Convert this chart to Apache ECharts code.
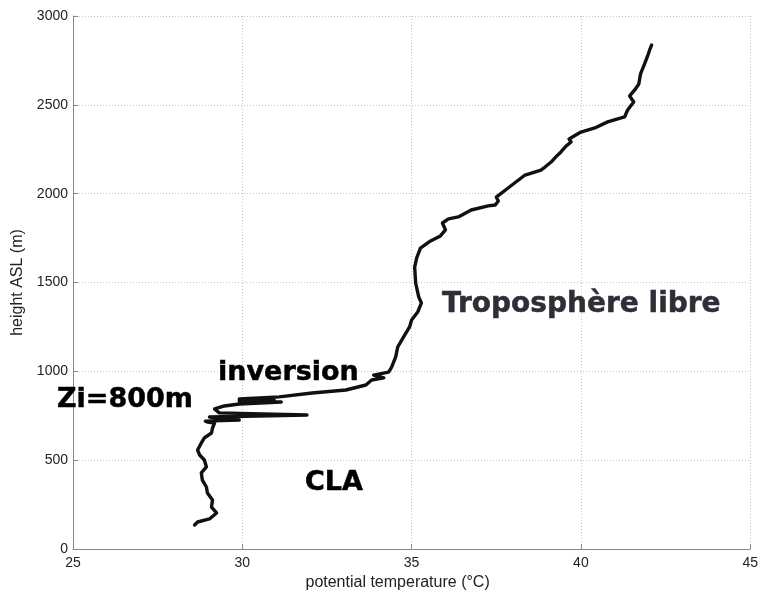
<!DOCTYPE html>
<html>
<head>
<meta charset="utf-8">
<script src="https://cdn.jsdelivr.net/npm/echarts@6/dist/echarts.min.js"></script>
<style>
html,body{margin:0;padding:0;background:#fff;}
#chart{width:761px;height:596px;}
</style>
</head>
<body>
<div id="chart"></div>
<script>
// Potential temperature (°C) along the profile, bottom to top
const temps = [28.59,28.68,29.03,29.24,29.09,29.12,28.97,28.94,28.82,28.79,28.94,28.88,28.74,28.68,28.79,28.88,29.09,29.12,29.18,28.97,
  28.91,29.91,29.03,31.91,29.32,29.18,29.47,29.91,31.15,29.91,30.94,29.91,31.09,32.06,33.06,33.65,33.82,34.18,33.88,34.32,34.41,
  34.53,34.59,34.76,34.94,35.0,35.18,35.29,35.21,35.12,35.09,35.15,35.26,35.56,35.85,36.0,35.91,36.09,36.38,36.76,37.26,37.47,
  37.56,37.5,37.85,38.35,38.82,38.94,39.12,39.26,39.41,39.56,39.71,39.65,40.0,40.41,40.79,41.29,41.38,41.56,41.44,41.59,41.71,
  41.76,41.88,41.97,42.03,42.09];
// Height ASL (m) for each temperature sample
const heights = [135,152,169,203,236,276,315,349,388,428,462,501,529,557,597,625,653,681,709,715,
  720,726,743,754,766,788,805,816,827,833,839,844,856,878,895,923,951,963,979,996,1024,
  1081,1137,1193,1250,1289,1334,1385,1419,1497,1587,1638,1694,1734,1762,1796,1835,1858,1869,1908,1931,1936,
  1959,1981,2032,2105,2133,2150,2178,2207,2235,2268,2291,2308,2347,2370,2404,2432,2471,2516,2550,2584,2617,
  2674,2730,2775,2809,2837];
const xTicks = [25,30,35,40,45];
const yTicks = [0,500,1000,1500,2000,2500,3000];
const xName = 'potential temperature (°C)';
const yName = 'height ASL (m)';
const labels = [
  {text:'inversion', x:218, y:373, color:'#000'},
  {text:'Zi=800m', x:57, y:400, color:'#000'},
  {text:'CLA', x:305, y:483, color:'#000'},
  {text:'Troposphère libre', x:442, y:305, color:'#2e2e36', size:28}
];

const points = temps.map((t,i)=>[t, heights[i]]);
const chart = echarts.init(document.getElementById('chart'));
const axisCommon = {
  axisLine:{show:true, lineStyle:{color:'#888', width:1}},
  axisTick:{show:true, inside:true, length:5, lineStyle:{color:'#888'}},
  splitLine:{show:true, lineStyle:{color:'#c4c4c4', type:[1,2], width:1}},
  axisLabel:{color:'#222', fontFamily:'Liberation Sans', fontSize:14, formatter:v=>String(v)}
};
chart.setOption({
  animation:false,
  backgroundColor:'#fff',
  grid:{left:73, top:16, width:680, height:533, containLabel:false},
  xAxis:Object.assign({}, axisCommon, {
    type:'value', min:xTicks[0], max:xTicks[xTicks.length-1], interval:5,
    name:xName, nameLocation:'middle', nameGap:25,
    nameTextStyle:{color:'#222', fontFamily:'Liberation Sans', fontSize:16, padding:[0,28,0,0]},
    axisLabel:Object.assign({}, axisCommon.axisLabel, {margin:7})
  }),
  yAxis:Object.assign({}, axisCommon, {
    type:'value', min:yTicks[0], max:yTicks[yTicks.length-1], interval:500,
    name:yName, nameLocation:'middle', nameGap:44,
    nameTextStyle:{color:'#222', fontFamily:'Liberation Sans', fontSize:16},
    axisLabel:Object.assign({}, axisCommon.axisLabel, {margin:5})
  }),
  series:[{
    type:'line', data:points, showSymbol:false, smooth:false,
    lineStyle:{color:'#111', width:3.4, join:'round', cap:'round'}
  }],
  graphic:labels.map(l=>({
    type:'text', x:l.x, y:l.y, z:10,
    style:{text:l.text, fill:l.color, stroke:l.color, lineWidth:0.5,
      font:'bold '+(l.size||27)+'px "DejaVu Sans"',
      textAlign:'left', textVerticalAlign:'middle'}
  }))
});
</script>
</body>
</html>
